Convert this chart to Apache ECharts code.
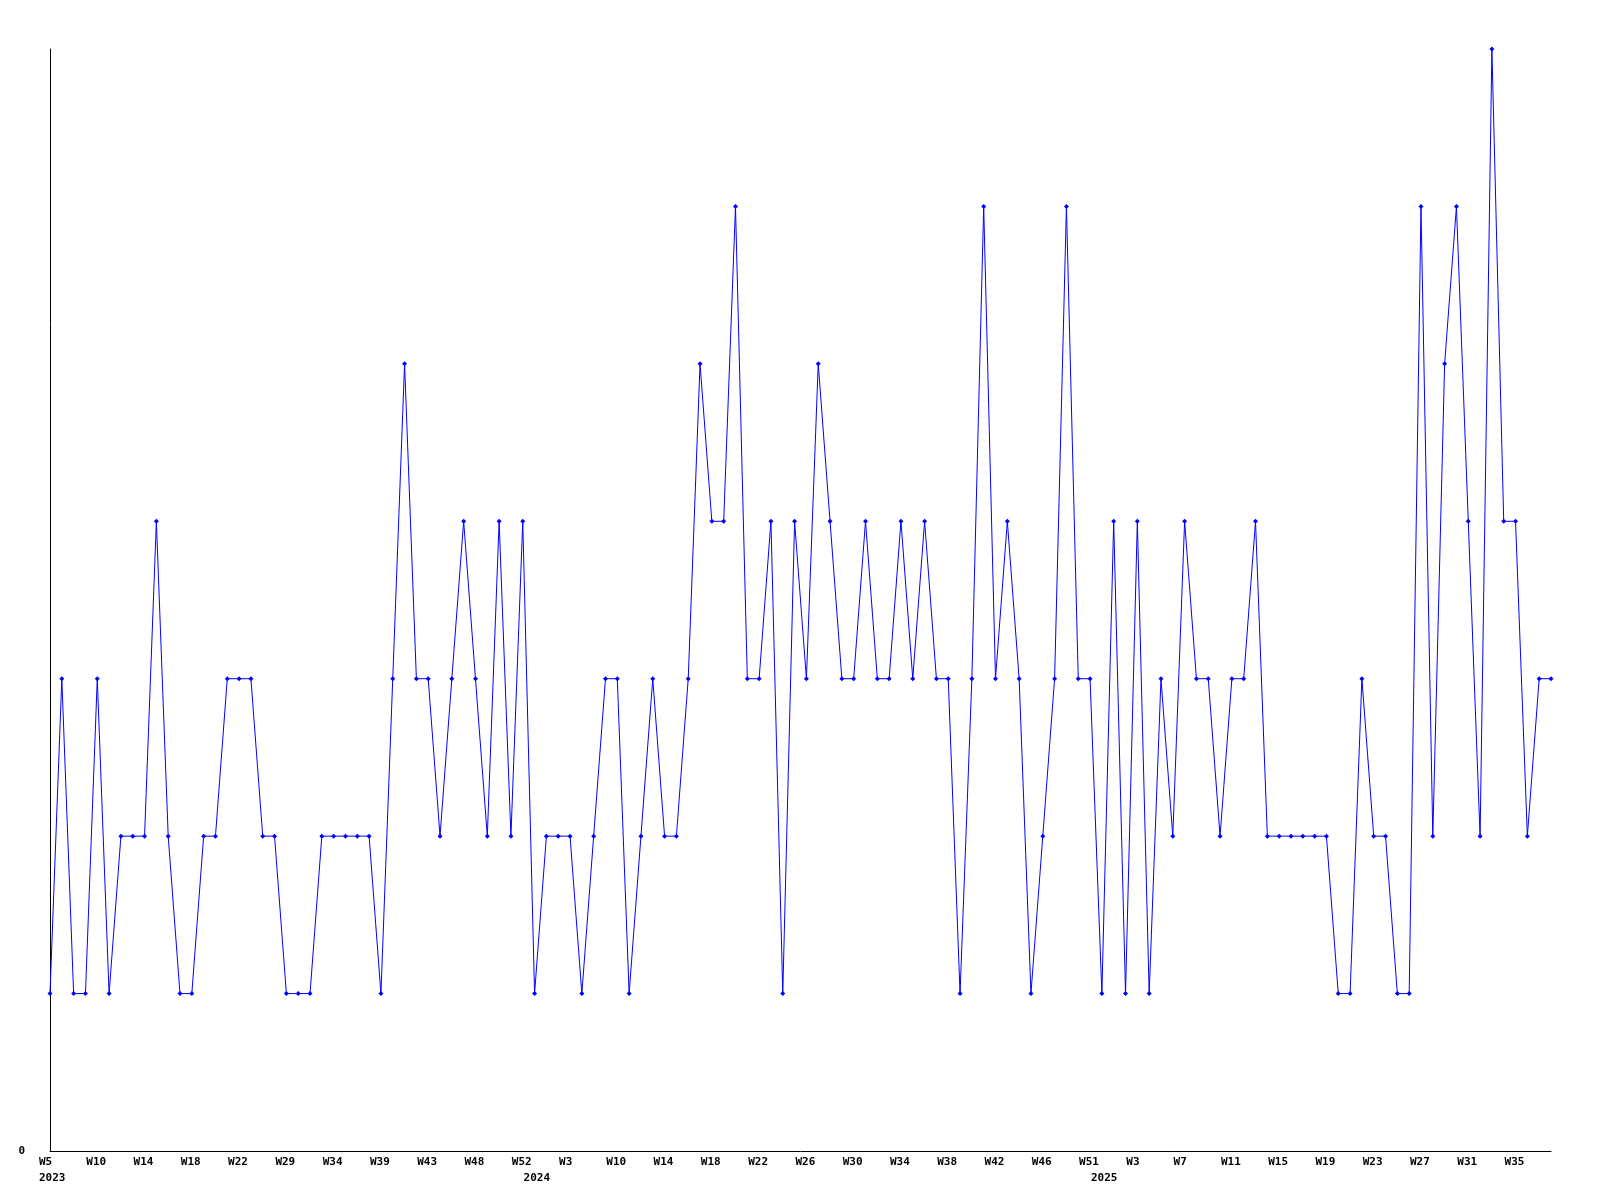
<!DOCTYPE html>
<html>
<head>
<meta charset="utf-8">
<script src="https://cdn.jsdelivr.net/npm/echarts@6/dist/echarts.min.js"></script>
<style>
  html, body { margin: 0; padding: 0; background: #fff; }
  #chart { width: 1600px; height: 1200px; }
</style>
</head>
<body>
<div id="chart"></div>
<script>
// semanas con datos, por año (faltan algunas)
const semanas2023 = ['W5','W6','W7','W8','W10','W11','W12','W13','W14','W15','W16','W17','W18','W19','W20','W21','W22','W23','W25','W27','W29','W30','W31','W33','W34','W35','W36','W37','W39','W40','W41','W42','W43','W44','W45','W46','W48','W49','W50','W51','W52'];
const semanas2024 = ['W0','W1','W2','W3','W5','W7','W8','W10','W11','W12','W13','W14','W15','W16','W17','W18','W19','W20','W21','W22','W23','W24','W25','W26','W27','W28','W29','W30','W31','W32','W33','W34','W35','W36','W37','W38','W39','W40','W41','W42','W43','W44','W45','W46','W47','W49','W50','W51'];
const semanas2025 = ['W0','W1','W2','W3','W4','W5','W6','W7','W8','W9','W10','W11','W12','W13','W14','W15','W16','W17','W18','W19','W20','W21','W22','W23','W24','W25','W26','W27','W28','W29','W30','W31','W32','W33','W34','W35','W36','W37','W38'];

const valores = [
    1,3,1,1,3,1,2,2,2,4,
    2,1,1,2,2,3,3,3,2,2,
    1,1,1,2,2,2,2,2,1,3,
    5,3,3,2,3,4,3,2,4,2,
    4,1,2,2,2,1,2,3,3,1,
    2,3,2,2,3,5,4,4,6,3,
    3,4,1,4,3,5,4,3,3,4,
    3,3,4,3,4,3,3,1,3,6,
    3,4,3,1,2,3,6,3,3,1,
    4,1,4,1,3,2,4,3,3,2,
    3,3,4,2,2,2,2,2,2,1,
    1,3,2,2,1,1,6,2,5,6,
    4,2,7,4,4,2,3,3
];

let categorias = [];
semanas2023.forEach(w => categorias.push('2023-' + w));
semanas2024.forEach(w => categorias.push('2024-' + w));
semanas2025.forEach(w => categorias.push('2025-' + w));

const fuente = {
    fontFamily: 'DejaVu Sans Mono',
    fontWeight: 'bold',
    fontSize: 11,
    color: '#000'
};

function inicioAnio(i) {
    return i === 0 || categorias[i].split('-')[0] !== categorias[i - 1].split('-')[0];
}

const chart = echarts.init(document.getElementById('chart'));

chart.setOption({
    animation: false,
    backgroundColor: '#fff',
    grid: { left: 50, right: 49, top: 49, bottom: 49, containLabel: false },
    xAxis: [
        {
            type: 'category',
            position: 'bottom',
            data: categorias,
            boundaryGap: false,
            axisLine: { lineStyle: { color: '#000', width: 1 } },
            axisTick: { show: false },
            splitLine: { show: false },
            axisLabel: Object.assign({}, fuente, {
                interval: 3,
                margin: 6,
                align: 'left',
                padding: [0, 0, 0, -11],
                formatter: v => v.split('-')[1]
            })
        },
        {
            type: 'category',
            position: 'bottom',
            data: categorias,
            boundaryGap: false,
            axisLine: { show: false },
            axisTick: { show: false },
            splitLine: { show: false },
            axisLabel: Object.assign({}, fuente, {
                interval: (i) => inicioAnio(i),
                margin: 22,
                align: 'left',
                padding: [0, 0, 0, -11],
                formatter: v => v.split('-')[0]
            })
        }
    ],
    yAxis: {
        type: 'value',
        min: 0,
        max: 7,
        interval: 7,
        axisLine: { show: true, lineStyle: { color: '#000', width: 1 } },
        axisTick: { show: false },
        splitLine: { show: false },
        axisLabel: Object.assign({}, fuente, {
            margin: 25,
            formatter: v => (v === 0 ? '0' : '')
        })
    },
    series: [
        {
            name: 'Total por semana',
            type: 'line',
            xAxisIndex: 0,
            data: valores,
            symbol: 'diamond',
            symbolSize: 5,
            showAllSymbol: true,
            lineStyle: { color: '#0000ff', width: 1 },
            itemStyle: { color: '#0000ff' }
        }
    ]
});
</script>
</body>
</html>
